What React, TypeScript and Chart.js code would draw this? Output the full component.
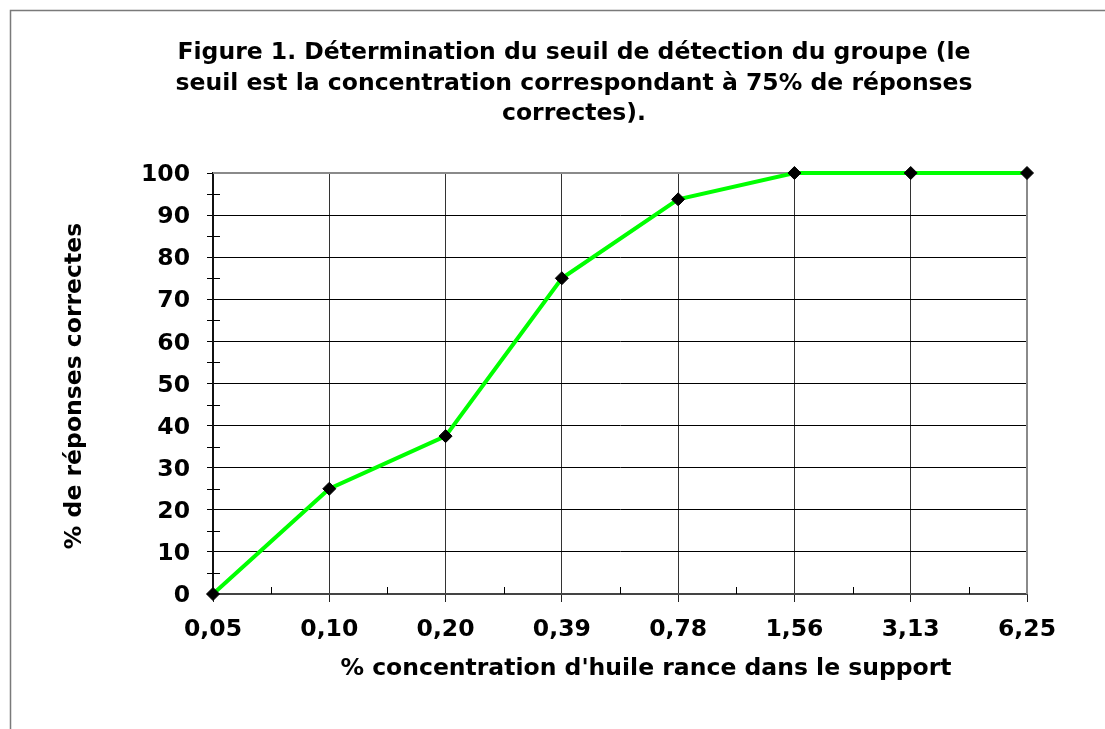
import React, { useEffect, useRef } from "react";
import { Chart, registerables } from "chart.js";

Chart.register(...registerables);

const titleLines = [
  "Figure 1. Détermination du seuil de détection du groupe (le",
  "seuil est la concentration correspondant à 75% de réponses",
  "correctes).",
];
const xAxisTitle = "% concentration d'huile rance dans le support";
const yAxisTitle = "% de réponses correctes";
const categories = ["0,05", "0,10", "0,20", "0,39", "0,78", "1,56", "3,13", "6,25"];
const correctPct = [0, 25, 37.5, 75, 93.75, 100, 100, 100];
const yMin = 0;
const yMax = 100;
const yStep = 10;
const yMinorStep = 5;

const FONT = "'DejaVu Sans', Verdana, sans-serif";
const FS = 23.5;

const decorPlugin = {
  id: "decor",
  beforeDatasetsDraw(chart: any) {
    const { ctx, chartArea } = chart;
    const { left, right, top, bottom } = chartArea;
    const y = chart.scales.y;
    const x = chart.scales.x;
    ctx.save();
    ctx.strokeStyle = "#8a8a8a";
    ctx.lineWidth = 2;
    ctx.beginPath();
    ctx.moveTo(left, top);
    ctx.lineTo(right, top);
    ctx.moveTo(right, top);
    ctx.lineTo(right, bottom);
    ctx.stroke();
    ctx.strokeStyle = "#000";
    ctx.lineWidth = 1;
    ctx.beginPath();
    for (let v = yMin + yMinorStep; v < yMax; v += yStep) {
      const py = Math.round(y.getPixelForValue(v)) + 0.5;
      ctx.moveTo(left - 6, py);
      ctx.lineTo(left + 7, py);
    }
    for (let i = 0; i < categories.length - 1; i++) {
      const px = Math.round((x.getPixelForValue(i) + x.getPixelForValue(i + 1)) / 2) + 0.5;
      ctx.moveTo(px, bottom);
      ctx.lineTo(px, bottom - 7);
    }
    ctx.stroke();
    ctx.restore();
  },
  afterDraw(chart: any) {
    const { ctx } = chart;
    ctx.save();
    ctx.strokeStyle = "#7a7a7a";
    ctx.lineWidth = 1.5;
    ctx.beginPath();
    ctx.moveTo(10.5, chart.height);
    ctx.lineTo(10.5, 10.5);
    ctx.lineTo(chart.width, 10.5);
    ctx.stroke();
    ctx.fillStyle = "#000";
    ctx.font = `bold ${FS}px ${FONT}`;
    ctx.textAlign = "center";
    ctx.textBaseline = "middle";
    const titleY = [53, 84, 114];
    titleLines.forEach((t, i) => ctx.fillText(t, 574, titleY[i]));
    ctx.fillText(xAxisTitle, 646, 669);
    ctx.translate(75, 386);
    ctx.rotate(-Math.PI / 2);
    ctx.fillText(yAxisTitle, 0, 0);
    ctx.restore();
  },
};

export default function App() {
  const ref = useRef<HTMLCanvasElement | null>(null);
  useEffect(() => {
    if (!ref.current) return;
    const chart = new Chart(ref.current, {
      type: "line",
      data: {
        labels: categories,
        datasets: [
          {
            data: correctPct,
            borderColor: "#00ff00",
            borderWidth: 4,
            backgroundColor: "#000",
            pointBackgroundColor: "#000",
            pointBorderColor: "#000",
            pointBorderWidth: 1,
            pointStyle: "rectRot",
            pointRadius: 6.5,
            tension: 0,
            clip: false as any,
          },
        ],
      },
      options: {
        responsive: false,
        animation: false,
        devicePixelRatio: 1,
        layout: { padding: { left: 0, top: 173, right: 78, bottom: 0 } },
        plugins: {
          legend: { display: false },
          title: { display: false },
          tooltip: { enabled: false },
        },
        scales: {
          x: {
            type: "category",
            offset: false,
            afterFit: (s: any) => {
              s.height = 135;
            },
            grid: {
              color: (c: any) =>
                c.index === 0 ? "rgba(0,0,0,0)" : c.index === categories.length - 1 ? "#8a8a8a" : "#333",
              tickColor: "#222",
              tickLength: 8,
              lineWidth: 1,
              drawTicks: true,
            },
            border: { color: "#444", width: 2 },
            ticks: {
              color: "#000",
              font: { family: FONT, size: FS, weight: "bold" },
              padding: 14,
              maxRotation: 0,
              autoSkip: false,
            },
          },
          y: {
            min: yMin,
            max: yMax,
            afterFit: (s: any) => {
              s.width = 213;
            },
            grid: {
              color: (c: any) => (c.tick && c.tick.value === yMax ? "rgba(0,0,0,0)" : "#000"),
              tickColor: "#000",
              tickLength: 6,
              lineWidth: 1,
            },
            border: { color: "#111", width: 2 },
            ticks: {
              stepSize: yStep,
              color: "#000",
              font: { family: FONT, size: FS, weight: "bold" },
              padding: 17,
              labelOffset: 2,
            },
          },
        },
      },
      plugins: [decorPlugin],
    });
    return () => chart.destroy();
  }, []);
  return (
    <canvas
      ref={ref}
      width={1105}
      height={729}
      style={{ position: "fixed", left: 0, top: 0, width: 1105, height: 729 }}
    />
  );
}
